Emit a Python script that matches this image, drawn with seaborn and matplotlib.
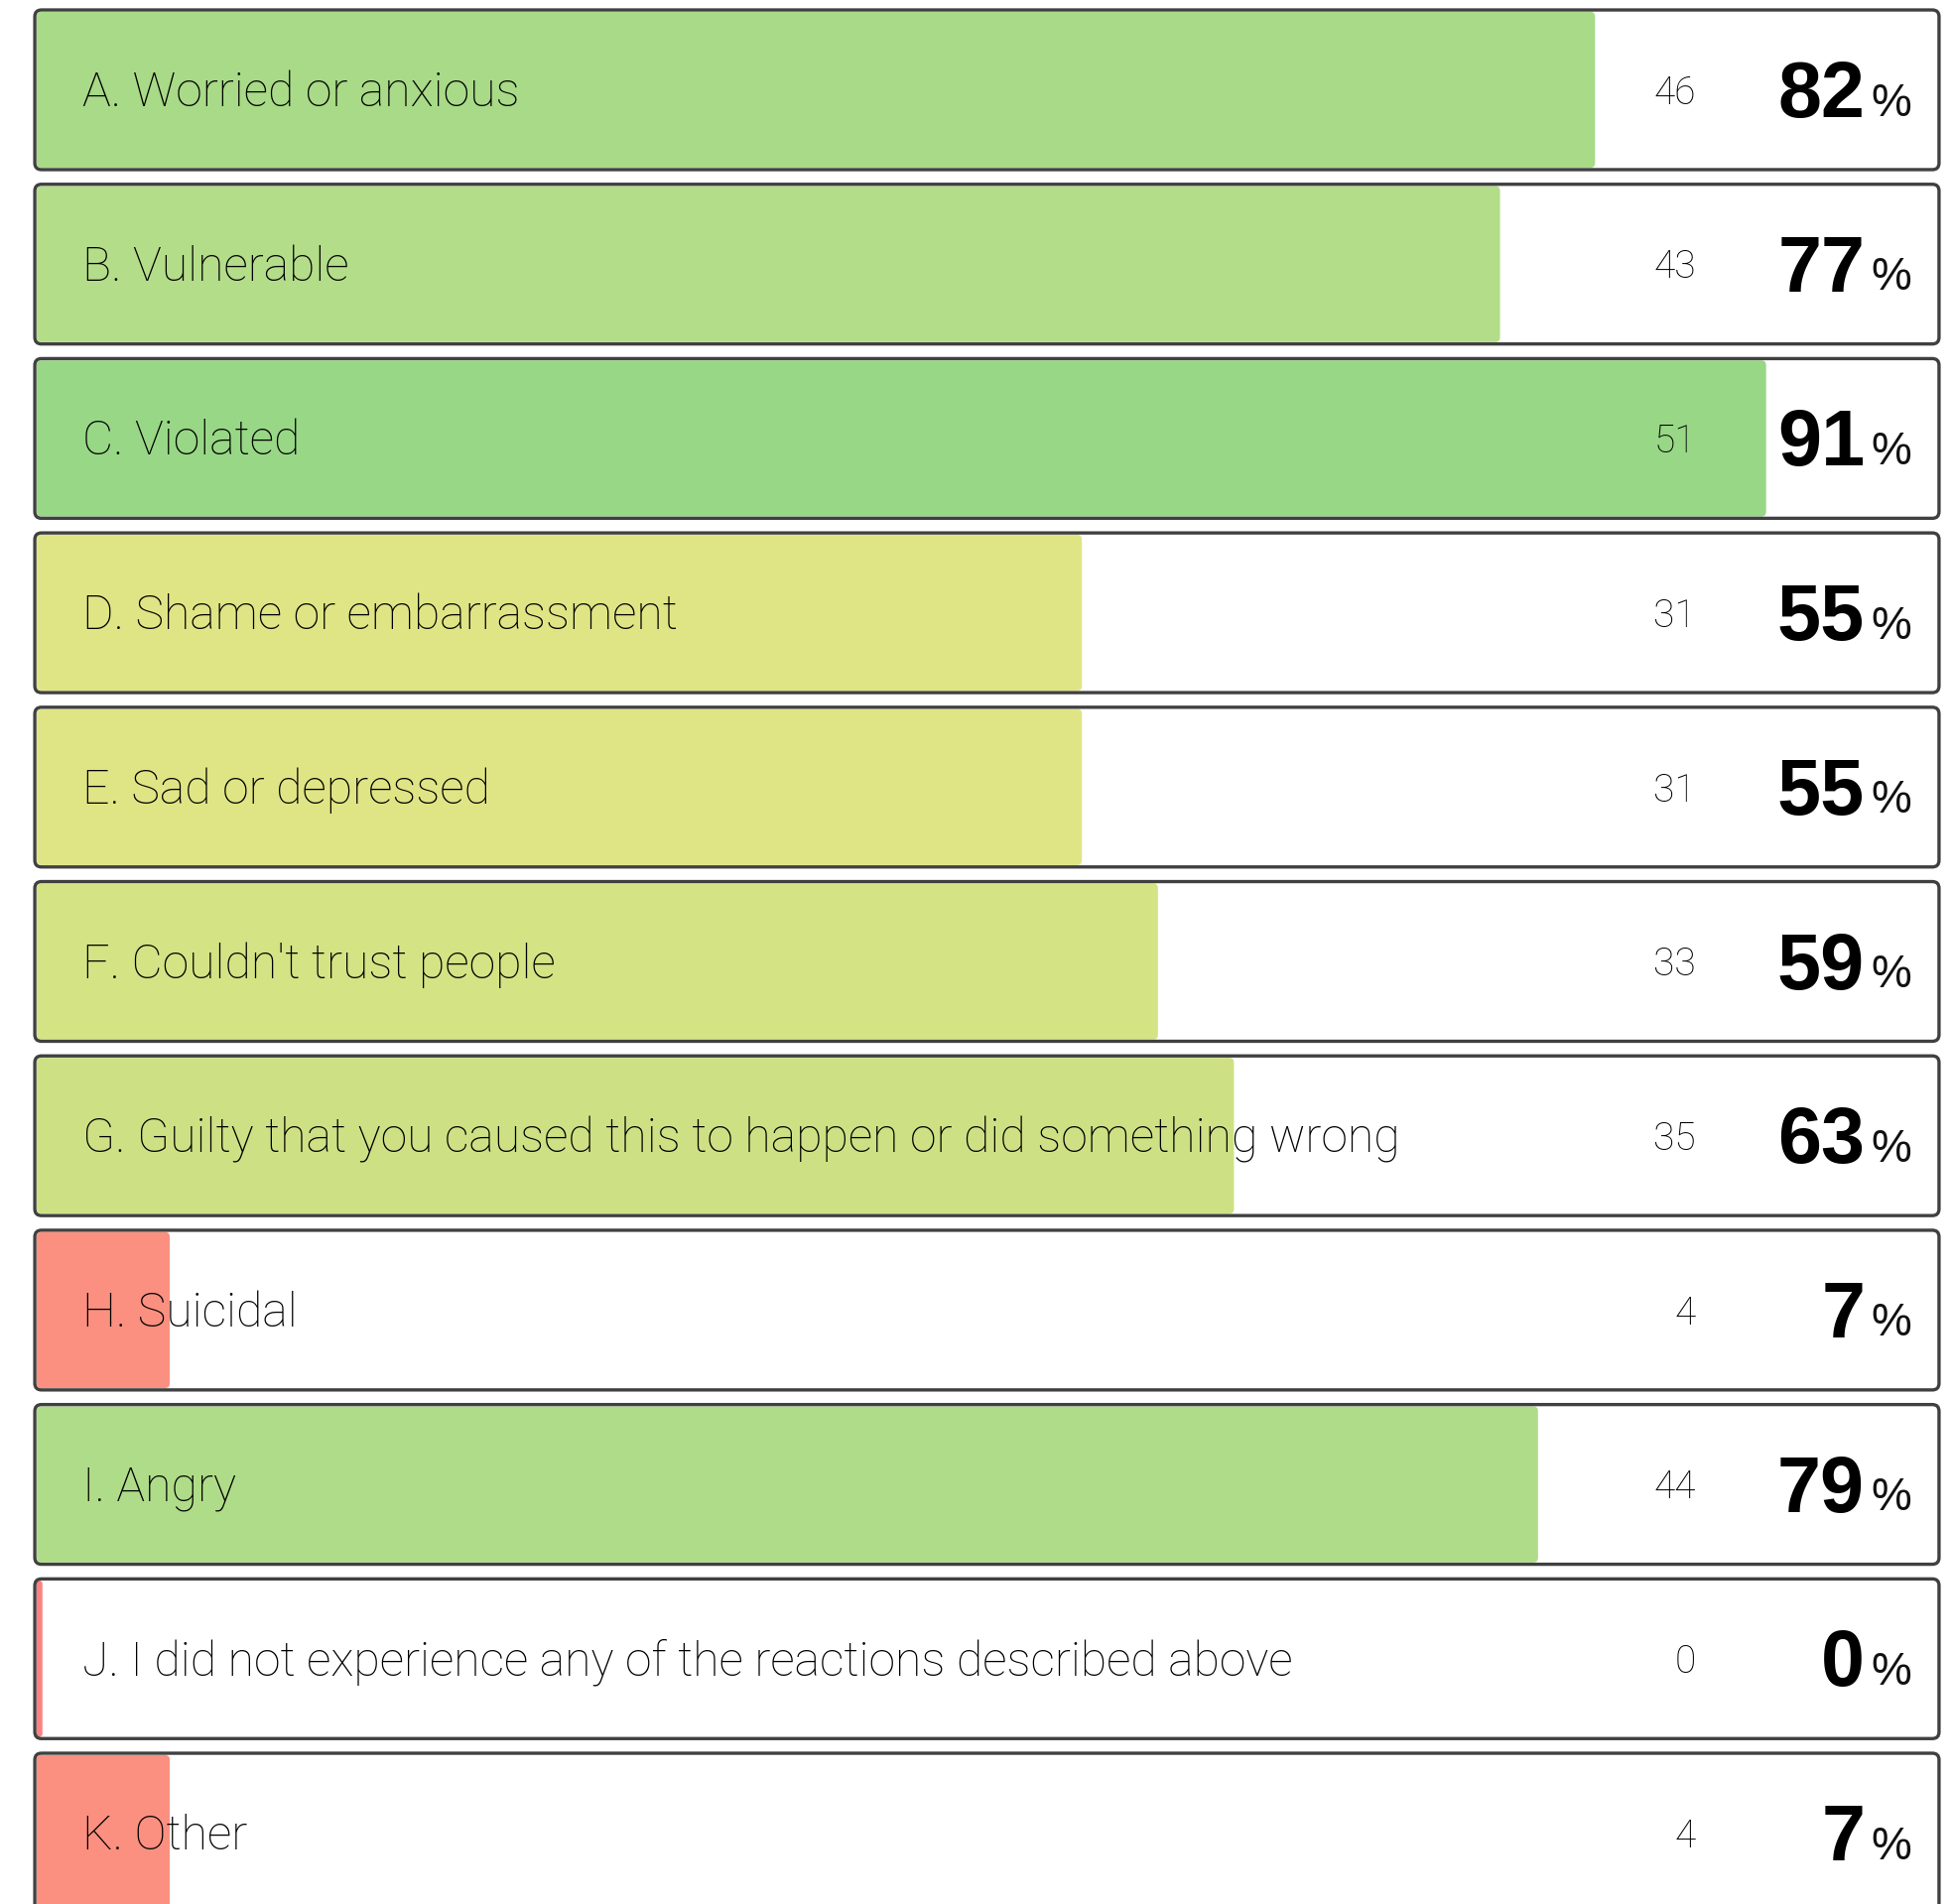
import numpy as np
import pandas as pd
import matplotlib
matplotlib.use("Agg")
from matplotlib import pyplot as plt
from matplotlib.patches import FancyBboxPatch
import seaborn as sns

labels = ["A. Worried or anxious", "B. Vulnerable", "C. Violated",
          "D. Shame or embarrassment", "E. Sad or depressed",
          "F. Couldn't trust people",
          "G. Guilty that you caused this to happen or did something wrong",
          "H. Suicidal", "I. Angry",
          "J. I did not experience any of the reactions described above",
          "K. Other"]
counts = [46, 43, 51, 31, 31, 33, 35, 4, 44, 0, 4]
percents = [82, 77, 91, 55, 55, 59, 63, 7, 79, 0, 7]
colors = ["#a8da87", "#b3dd89", "#98d786", "#dfe585", "#dfe585", "#d4e384",
          "#cde184", "#fb9080", "#afdc88", "#ff8080", "#fb9080"]

df = pd.DataFrame({"label": labels, "count": counts, "pct": percents})
# tiny sliver so a 0% row still shows its colour
df["shown"] = np.maximum(df["pct"], 0.3)

sns.set_theme(style="white")
plt.rcParams["font.family"] = ["Roboto", "DejaVu Sans"]

W, H = 1968, 1919
fig = plt.figure(figsize=(W / 100, H / 100), dpi=100)
left_px, right_px = 37, 1952
pitch = 175.7
first_center = 90.5
ax = fig.add_axes([left_px / W, 0, (right_px - left_px) / W, 1])

sns.barplot(data=df, x="shown", y="label", hue="label", palette=colors,
            orient="h", width=0.895, legend=False, ax=ax, saturation=1)

ax.set_xlim(0, 100)
ax.set_ylim((H - first_center) / pitch, -first_center / pitch)
ax.axis("off")

px_x = (right_px - left_px) / 100.0
aspect = px_x / pitch

# swap the plain bars for ones with slightly rounded corners
for p in list(ax.patches):
    x0, y0 = p.get_x(), p.get_y()
    w, h = p.get_width(), p.get_height()
    r = min(0.25, w / 2)
    rb = FancyBboxPatch((x0, y0), w, h,
                        boxstyle="round,pad=0,rounding_size=%f" % r,
                        mutation_aspect=aspect, facecolor=p.get_facecolor(),
                        edgecolor="none", zorder=2)
    p.set_visible(False)
    ax.add_patch(rb)

# rounded outline boxes around each row
for i in range(len(labels)):
    box = FancyBboxPatch((-0.1, i - 0.458), 100.2, 0.916,
                         boxstyle="round,pad=0,rounding_size=0.35",
                         mutation_aspect=aspect, fill=False,
                         edgecolor="#404040", linewidth=2.4, clip_on=False,
                         zorder=5)
    ax.add_patch(box)

    ax.text(2.4, i + 0.02, labels[i], ha="left", va="center",
            fontsize=34.7, fontweight="light", color="#000000", zorder=6)
    ax.text(87.3, i + 0.02, str(counts[i]), ha="right", va="center",
            fontsize=28, fontweight="light", color="#000000", zorder=6)
    ax.text(96.2, i + 0.04, str(percents[i]), ha="right", va="center",
            fontsize=57, fontweight="bold", color="#000000", zorder=6,
            family=["Liberation Sans", "DejaVu Sans"])
    ax.text(96.5, i + 0.08, "%", ha="left", va="center",
            fontsize=33, fontweight="normal", color="#111111", zorder=6,
            family=["Liberation Sans", "DejaVu Sans"])

fig.savefig("out.png", dpi=100)
